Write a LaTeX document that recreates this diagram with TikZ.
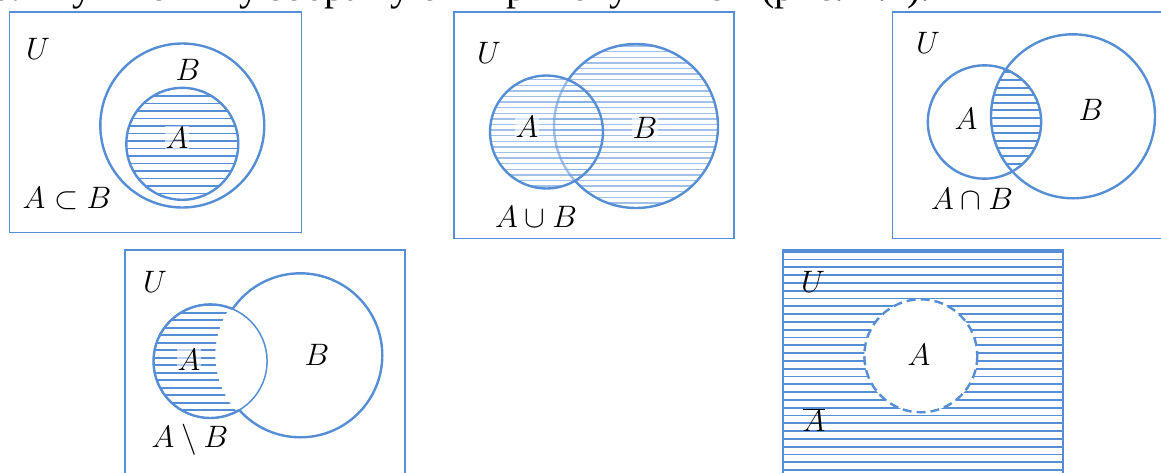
\RequirePackage{fix-cm}
\documentclass[tikz,border=0pt]{standalone}
\usepackage{fontspec}
\newfontfamily\cyrserif{Liberation Serif}
\definecolor{vb}{RGB}{85,142,213}
\tikzset{
  frame/.style={draw=vb, line width=1.6pt},
  setline/.style={draw=vb, line width=2.4pt},
  thinset/.style={draw=vb, line width=1.5pt},
  hatch/.style={draw=vb, line width=1.9pt},
  lighthatch/.style={draw=vb, line width=1.4pt, draw opacity=0.55},
  lbl/.style={font=\fontsize{31}{36}\selectfont, inner sep=1pt},
  halo/.style={lbl, fill=white, fill opacity=0.6, text opacity=1},
}
\newcommand{\hatchrows}[6][hatch]{%
  \pgfmathsetmacro\hsec{#4+#5}%
  \foreach \yy in {#4,\hsec,...,#6}{\draw[#1] (#2,\yy) -- (#3,\yy);}}
\begin{document}
\begin{tikzpicture}[x=1pt,y=-1pt]
\useasboundingbox (0,0) rectangle (1161,472);
\clip (0,0) rectangle (1161,472);

% cut-off caption line
\node[font=\cyrserif\fontsize{40}{46}\selectfont, anchor=base east, inner sep=0] (cap) at (931,0.8) {Універсальну множину зображують прямокутником (рис. 1.1).};

% ---------- Panel 1: A subset B ----------
\draw[frame] (9.5,11.7) rectangle (301.5,232.3);
\begin{scope}
  \clip (182.3,143.8) circle (56);
  \hatchrows{120}{245}{88.5}{7.5}{202}
\end{scope}
\draw[setline] (182.3,125.5) circle (82);
\draw[setline] (182.3,143.8) circle (56);
\node[lbl] (p1U) at (38,49) {$U$};
\node[lbl] (p1B) at (188,70) {$B$};
\node[halo] (p1A) at (177,138) {$A$};
\node[lbl] (p1r) at (67,199) {$A\subset B$};

% ---------- Panel 2: A union B ----------
\draw[frame] (454,11.7) rectangle (734,238.3);
\begin{scope}
  \clip (636,126) circle (82);
  \hatchrows[lighthatch]{550}{722}{46}{5.6}{210}
\end{scope}
\draw[setline] (636,126) circle (82);
\fill[white, opacity=0.45] (546.5,132) circle (56.5);
\begin{scope}
  \clip (546.5,132) circle (56.5);
  \hatchrows[lighthatch]{485}{610}{46}{5.6}{210}
\end{scope}
\draw[setline] (546.5,132) circle (56.5);
\node[lbl] (p2U) at (489,53) {$U$};
\node[halo] (p2A) at (527,127) {$A$};
\node[halo] (p2B) at (645,128) {$B$};
\node[lbl] (p2r) at (536,217) {$A\cup B$};

% ---------- Panel 3: A intersect B ----------
\draw[frame] (892.3,11.7) rectangle (1175,238.3);
\begin{scope}
  \clip (984.5,122) circle (56.7);
  \clip (1073,116.3) circle (82);
  \hatchrows{980}{1050}{64.8}{7.6}{182}
\end{scope}
\draw[setline] (984.5,122) circle (56.7);
\draw[setline] (1073,116.3) circle (82);
\node[lbl] (p3U) at (928,43) {$U$};
\node[lbl] (p3A) at (966,119) {$A$};
\node[lbl] (p3B) at (1091,110) {$B$};
\node[lbl] (p3r) at (972,199) {$A\cap B$};

% ---------- Panel 4: A minus B ----------
\draw[frame] (125,250) rectangle (405,490);
\begin{scope}[even odd rule]
  \clip (210.3,361.2) circle (56.8);
  \clip (100,240) rectangle (430,490) (300.3,355.3) circle (85);
  \hatchrows{145}{280}{305.2}{7.5}{420}
\end{scope}
\node[halo] (p4A) at (189,360) {$A$};
\draw[thinset] (210.3,361.2) circle (56.8);
\begin{scope}[even odd rule]
  \clip (100,240) rectangle (430,490) (300.3,355.3) circle (82);
  \draw[setline] (210.3,361.2) circle (56.8);
\end{scope}
\begin{scope}[even odd rule]
  \clip (100,240) rectangle (430,490) (210.3,361.2) circle (56.8);
  \draw[setline] (300.3,355.3) circle (82);
\end{scope}
\node[lbl] (p4U) at (155,282) {$U$};
\node[lbl] (p4B) at (317,355) {$B$};
\node[lbl] (p4r) at (190,440) {$A\setminus B$};

% ---------- Panel 5: complement of A ----------
\begin{scope}
  \clip (782.7,250) rectangle (1062.7,490);
  \hatchrows{780}{1065}{251.7}{7.8}{480}
\end{scope}
\draw[frame] (782.7,250) rectangle (1062.7,490);
\fill[white] (920.8,355.8) circle (56.5);
\draw[setline, dash pattern=on 9pt off 5pt] (920.8,355.8) circle (56.5);
\node[lbl] (p5U) at (813,282) {$U$};
\node[lbl] (p5A) at (919,355) {$A$};
\node[lbl] (p5C) at (814,420) {$\overline{A}$};
\end{tikzpicture}
\end{document}
